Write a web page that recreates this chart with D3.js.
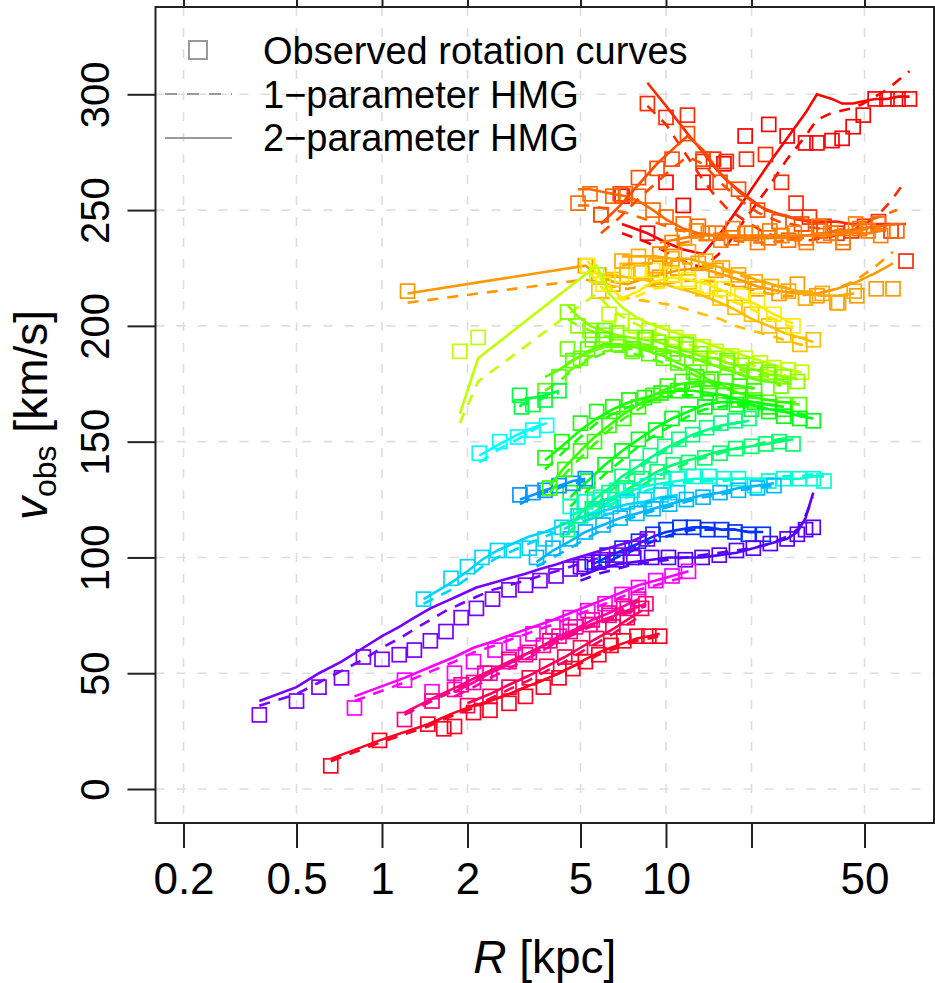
<!DOCTYPE html>
<html><head><meta charset="utf-8">
<script src="https://cdn.jsdelivr.net/npm/d3@7"></script>
<style>body{margin:0;background:#fff}svg{display:block}</style>
</head><body>
<svg id="chart" width="935" height="983"></svg>
<script>
// ---------- axes ----------
const xTicks = [0.2, 0.5, 1, 2, 5, 10, 20, 50];
const xTickLabels = ["0.2", "0.5", "1", "2", "5", "10", "", "50"];
const yTicks = [0, 50, 100, 150, 200, 250, 300];
const legendLabels = ["Observed rotation curves", "1\u2212parameter HMG", "2\u2212parameter HMG"];

// ---------- rotation curves: radius [kpc], observed v, 1-parameter fit, 2-parameter fit ----------
const g01R   = [7, 8.6, 10, 11.5, 13.5, 16, 19, 23, 26.7, 31, 34, 38.4, 41.7, 45.6, 49.5, 54.5, 60, 65.6, 72];
const g01Obs = [256, 240, 262, 252, 262, 270, 282, 287, 282, 279, 279, 280, 281, 286, 291, 298, 298, 298, 298];
const g01One = [240, 236, 232, 228, 225, 233, 246, 260, 272, 282, 289, 292, 293, 294, 296, 299, 302, 306, 310];
const g01Two = [244, 240, 236, 233, 231, 242, 255, 270, 281, 292, 300, 298, 296, 296, 297, 298, 298, 299, 299];

const g02R   = [8.6, 10, 11.9, 13.5, 14.7, 16.3, 19.2, 22.4, 25.5, 28.7, 32, 36, 40, 45, 50, 56, 62, 70];
const g02Obs = [296, 290, 291, 271, 272, 271, 272, 274, 262, 253, 247, 243, 240, 241, 243, 245, 241, 228];
const g02One = [295, 287, 273, 263, 257, 251, 245, 240, 238, 237, 237, 238, 239, 241, 244, 248, 254, 263];
const g02Two = [305, 295, 283, 275, 269, 263, 256, 250, 248, 246, 245, 245, 245, 244, 244, 244, 244, 244];

const g03R   = [4.9, 5.4, 5.9, 6.5, 7.2, 8, 9, 10, 11.5, 13, 15, 17, 20, 23, 27, 31, 36, 42, 48, 56, 65];
const g03Obs = [253, 257, 248, 256, 257, 256, 250, 247, 244, 243, 240, 238, 240, 238, 237, 238, 239, 236, 242, 244, 241];
const g03One = [252, 252, 251, 250, 249, 247, 245, 243, 241, 239, 238, 237, 236, 236, 237, 238, 240, 242, 244, 247, 250];
const g03Two = [259, 259, 258, 257, 256, 254, 250, 246, 242, 240, 239, 238, 238, 238, 238, 239, 240, 241, 242, 243, 244];

const g04R   = [5.9, 6.9, 8, 9.3, 10.5, 11.9, 13.5, 15.5, 18, 21, 25, 30, 35];
const g04Obs = [248, 257, 264, 268, 272, 283, 272, 262, 259, 250, 245, 244, 241];
const g04One = [240, 247, 255, 262, 268, 273, 270, 262, 255, 249, 245, 243, 242];
const g04Two = [244, 252, 261, 270, 276, 282, 276, 266, 258, 252, 248, 246, 245];

const g05R   = [1.23, 5.2, 5.8, 6.5, 7.3, 8.2, 9.5, 11, 13, 15, 18, 21, 25, 29, 34, 40, 47, 55, 63];
const g05Obs = [215, 226, 222, 218, 222, 223, 221, 225, 227, 224, 220, 216, 214, 218, 213, 210, 213, 216, 216];
const g05One = [210, 220, 219, 217, 216, 217, 218, 219, 220, 219, 217, 215, 213, 213, 214, 216, 220, 226, 232];
const g05Two = [214, 226, 222, 219, 218, 220, 222, 224, 225, 223, 220, 217, 215, 214, 214, 216, 219, 223, 227];

const g06R   = [5.8, 6.5, 7.3, 8.2, 9.3, 10.5, 12, 13.5, 15.5, 17.5, 20, 23, 26, 29.6, 33];
const g06Obs = [215, 220, 224, 223, 220, 222, 219, 216, 212, 208, 205, 200, 196, 192, 194];
const g06One = [212, 212, 212, 211, 210, 209, 207, 205, 203, 200, 198, 196, 194, 192, 191];
const g06Two = [222, 222, 221, 220, 219, 217, 215, 213, 210, 207, 203, 200, 197, 195, 193];

const g07R   = [5.3, 6, 7, 8, 9, 10.5, 12, 14, 16, 18.5, 21, 24, 28];
const g07Obs = [226, 218, 222, 224, 224, 222, 220, 217, 216, 213, 211, 205, 200];
const g07One = [224, 216, 211, 213, 216, 217, 216, 214, 212, 209, 206, 203, 199];
const g07Two = [228, 219, 212, 215, 219, 221, 220, 218, 215, 212, 209, 205, 201];

const g08R   = [1.88, 2.18, 5.7, 6.3, 7, 7.8, 8.7, 9.7, 10.8, 12, 13.5, 15, 17, 19, 21.5, 24, 27, 30];
const g08Obs = [189, 195, 222, 205, 202, 200, 198, 197, 195, 193, 191, 189, 187, 186, 184, 182, 181, 180];
const g08One = [158, 176, 214, 208, 204, 201, 198, 196, 194, 192, 190, 188, 186, 184, 182, 180, 178, 177];
const g08Two = [162, 186, 226, 214, 208, 204, 201, 199, 197, 195, 193, 191, 189, 187, 185, 183, 181, 180];

const g09R   = [4.5, 4.9, 5.4, 6, 6.7, 7.5, 8.4, 9.4, 10.5, 11.8, 13.2, 14.8, 16.5, 18.5, 20.7, 23, 26, 29];
const g09Obs = [206, 200, 198, 196, 197, 195, 194, 193, 192, 190, 188, 186, 184, 183, 181, 180, 178, 176];
const g09One = [203, 200, 198, 196, 194, 193, 192, 190, 189, 187, 186, 184, 182, 181, 179, 178, 176, 175];
const g09Two = [209, 204, 200, 198, 196, 195, 194, 193, 191, 189, 187, 186, 184, 182, 181, 179, 178, 177];

const g10R   = [3.75, 4.2, 4.7, 5.3, 6, 6.8, 7.7, 8.7, 9.8, 11, 12.5, 14, 16, 18, 20.5, 23, 26, 29.5];
const g10Obs = [172, 178, 185, 190, 194, 192, 190, 188, 186, 184, 180, 176, 172, 170, 168, 167, 166, 166];
const g10One = [172, 176, 181, 185, 188, 189, 188, 186, 184, 182, 179, 176, 173, 171, 169, 168, 167, 167];
const g10Two = [178, 181, 185, 189, 192, 192, 191, 189, 187, 184, 181, 177, 174, 171, 169, 168, 167, 166];

const g11R   = [3.75, 4.3, 5, 5.7, 6.5, 7.4, 8.4, 9.6, 11, 12.5, 14.2, 16, 18, 20.5, 23, 26];
const g11Obs = [143, 150, 158, 163, 165, 168, 169, 171, 172, 172, 171, 170, 168, 167, 165, 164];
const g11One = [138, 145, 152, 158, 162, 165, 167, 169, 170, 170, 170, 169, 168, 167, 166, 165];
const g11Two = [142, 148, 155, 160, 164, 167, 169, 171, 172, 172, 171, 170, 168, 167, 166, 165];

const g12R   = [4.6, 5.3, 6.1, 7, 8, 9.2, 10.5, 12, 13.7, 15.5, 17.7, 20, 23, 26, 29.6, 33];
const g12Obs = [128, 133, 140, 146, 151, 155, 160, 162, 165, 167, 166, 164, 163, 161, 160, 159];
const g12One = [122, 129, 136, 142, 148, 153, 157, 161, 164, 165, 166, 165, 164, 163, 162, 161];
const g12Two = [126, 133, 140, 146, 151, 156, 160, 163, 166, 167, 167, 166, 164, 163, 161, 160];

const g13R   = [5.5, 6.3, 7.2, 8.2, 9.3, 10.6, 12, 13.7, 15.5, 17.6, 20, 22.5, 25, 28];
const g13Obs = [121, 125, 130, 134, 137, 140, 141, 143, 145, 147, 148, 149, 150, 149];
const g13One = [117, 122, 127, 131, 135, 138, 141, 143, 145, 147, 148, 150, 151, 152];
const g13Two = [119, 124, 129, 133, 137, 140, 142, 144, 146, 147, 148, 149, 150, 151];

const g14R   = [4.6, 5.2, 5.9, 6.7, 7.6, 8.6, 9.7, 11, 12.5, 14.2, 16, 18, 20.5, 23, 26, 29.5, 33, 36];
const g14Obs = [122, 124, 126, 129, 129, 131, 133, 134, 135, 135, 134, 134, 131, 133, 134, 134, 134, 133];
const g14One = [115, 118, 121, 124, 127, 129, 131, 132, 133, 133, 133, 134, 134, 134, 135, 135, 136, 136];
const g14Two = [118, 121, 124, 127, 129, 131, 132, 133, 134, 134, 134, 134, 134, 134, 134, 134, 135, 135];

const g15R   = [1.4, 1.75, 2, 2.25, 2.55, 2.9, 3.3, 3.75, 4.3, 4.9, 5.6, 6.4, 7.3, 8.4, 9.6, 11];
const g15Obs = [82, 91, 96, 100, 103, 103, 104, 108, 113, 118, 120, 122, 124, 125, 127, 128];
const g15One = [80, 86, 91, 96, 100, 103, 106, 109, 112, 115, 117, 119, 121, 123, 125, 126];
const g15Two = [82, 89, 94, 99, 103, 106, 109, 111, 114, 117, 119, 121, 123, 124, 126, 127];

const g16R   = [2.2, 2.6, 3, 3.4, 3.8];
const g16Obs = [145, 150, 152, 155, 157];
const g16One = [141, 147, 151, 155, 158];
const g16Two = [144, 149, 153, 156, 158];

const g17R   = [3.06, 3.4, 3.75, 4.2, 4.7, 5.2];
const g17Obs = [127, 128, 129, 131, 132, 134];
const g17One = [123, 126, 128, 130, 132, 133];
const g17Two = [125, 127, 129, 131, 133, 134];

const g18R   = [5.5, 6.2, 7, 8, 9, 10, 11.2, 12.5, 14, 15.7, 17.5, 19.5, 22];
const g18Obs = [98, 101, 104, 107, 110, 112, 113, 113, 112, 112, 111, 110, 110];
const g18One = [95, 98, 101, 104, 107, 109, 111, 112, 112, 112, 112, 111, 111];
const g18Two = [97, 100, 103, 106, 109, 111, 112, 113, 113, 112, 112, 111, 111];

const g19R   = [0.37, 0.5, 0.6, 0.72, 0.86, 1.0, 1.15, 1.3, 1.48, 1.68, 1.9, 2.15, 2.45, 2.8, 3.2, 3.6, 4.1, 4.6, 5.2, 5.9, 6.7, 7.6, 8.6];
const g19Obs = [32, 38, 44, 48, 57, 56, 58, 60, 64, 68, 74, 78, 82, 86, 88, 90, 92, 95, 97, 99, 101, 104, 108];
const g19One = [36, 41, 46, 51, 56, 61, 65, 69, 73, 77, 80, 83, 86, 88, 90, 92, 94, 96, 98, 100, 102, 104, 107];
const g19Two = [38, 44, 50, 55, 61, 66, 70, 74, 78, 81, 84, 87, 89, 91, 93, 95, 97, 99, 101, 103, 105, 107, 110];

const g20R   = [5, 5.8, 6.7, 7.7, 8.9, 10.2, 11.7, 13.4, 15.4, 17.7, 20.3, 23.3, 26.7, 29, 31, 33];
const g20Obs = [96, 98, 99, 100, 100, 100, 99, 100, 101, 103, 104, 106, 108, 110, 112, 113];
const g20One = [90, 93, 95, 97, 98, 99, 100, 101, 102, 103, 104, 106, 109, 112, 118, 126];
const g20Two = [92, 95, 97, 98, 99, 100, 100, 100, 101, 102, 104, 106, 108, 111, 117, 128];

const g21R   = [0.8, 1.2, 1.5, 1.8, 2.1, 2.5, 2.9, 3.4, 4, 4.6, 5.3, 6.1, 7, 8, 9.2, 10.5, 12];
const g21Obs = [35, 47, 42, 50, 55, 60, 63, 67, 70, 74, 77, 80, 84, 87, 90, 92, 94];
const g21One = [38, 46, 51, 55, 59, 62, 65, 68, 71, 74, 77, 80, 83, 86, 88, 90, 92];
const g21Two = [40, 48, 53, 57, 61, 64, 67, 70, 73, 76, 79, 82, 85, 88, 90, 92, 94];

const g22R   = [1.8, 2.1, 2.4, 2.8, 3.2, 3.7, 4.2, 4.8, 5.5, 6.3, 7.1, 8];
const g22Obs = [43, 46, 50, 55, 58, 62, 66, 70, 73, 76, 79, 82];
const g22One = [40, 44, 48, 52, 56, 60, 64, 68, 71, 74, 78, 81];
const g22Two = [42, 46, 50, 54, 58, 62, 66, 69, 73, 76, 79, 82];

const g23R   = [2, 2.4, 2.8, 3.3, 3.8, 4.4, 5, 5.7, 6.5, 7.3, 8.2];
const g23Obs = [36, 40, 44, 48, 53, 57, 61, 65, 70, 74, 78];
const g23One = [35, 39, 43, 47, 51, 55, 59, 63, 67, 71, 75];
const g23Two = [37, 41, 45, 49, 53, 57, 61, 65, 69, 73, 77];

const g24R   = [0.66, 0.98, 1.45, 1.65, 1.8, 2.1, 2.4, 2.8, 3.2, 3.7, 4.2, 4.7, 5.2, 5.8, 6.4, 7.1, 7.9, 8.7, 9.5];
const g24Obs = [10, 21, 28, 26, 27, 33, 34, 37, 40, 44, 48, 52, 55, 58, 62, 64, 66, 66, 66];
const g24One = [12, 20, 27, 30, 32, 35, 38, 41, 44, 47, 50, 53, 55, 58, 60, 62, 64, 65, 66];
const g24Two = [13, 21, 28, 31, 33, 36, 38, 41, 44, 47, 50, 53, 56, 59, 61, 63, 65, 66, 67];

const g25R   = [3.5, 4, 4.6, 5.2, 6, 6.9, 7.9, 9, 10.3, 11.8, 13.5, 15.5, 18, 21, 24];
const g25Obs = [100, 104, 108, 111, 114, 117, 119, 121, 123, 125, 126, 128, 129, 130, 131];
const g25One = [96, 100, 104, 108, 112, 115, 118, 120, 122, 124, 126, 127, 129, 130, 131];
const g25Two = [98, 103, 107, 111, 114, 117, 119, 121, 123, 125, 127, 128, 130, 131, 132];

const g26R   = [3.05, 3.1, 3.4, 3.75, 4.2];
const g26Obs = [170, 165, 166, 168, 172];
const g26One = [165, 166, 167, 169, 171];
const g26Two = [168, 168, 169, 170, 172];

const g27R   = [9.5, 10.5, 11.6, 12.8, 14.1, 15.6, 17.2, 19, 21, 23.2, 25.6, 28.3, 31.2, 34.5, 38, 42, 46.5, 51.5, 57];
const g27Obs = [231, 236, 238, 241, 240, 237, 242, 240, 236, 241, 239, 240, 236, 243, 240, 238, 244, 241, 239];
const g27One = [233, 235, 236, 237, 237, 238, 238, 238, 238, 238, 238, 239, 239, 239, 240, 240, 241, 242, 243];
const g27Two = [236, 237, 238, 239, 239, 239, 239, 239, 239, 239, 239, 239, 239, 239, 239, 240, 240, 240, 241];

const g28R   = [4.5, 5, 5.5, 6.1, 6.8, 7.6, 8.5, 9.5, 10.6, 11.8, 13.2, 14.7, 16.4, 18.3, 20.4, 22.8, 25.4];
const g28Obs = [190, 186, 194, 198, 192, 189, 195, 191, 188, 192, 186, 183, 185, 180, 178, 179, 174];
const g28One = [180, 184, 187, 189, 190, 190, 190, 189, 188, 187, 185, 183, 181, 179, 177, 176, 174];
const g28Two = [184, 187, 189, 191, 191, 191, 191, 190, 189, 187, 185, 183, 181, 179, 177, 176, 175];

const g29R   = [3.9, 4.4, 5, 5.6, 6.3, 7.1, 8, 9, 10.1, 11.4, 12.8, 14.4, 16.2, 18.2, 20.5];
const g29Obs = [130, 138, 146, 150, 157, 160, 165, 170, 174, 176, 178, 177, 176, 174, 172];
const g29One = [128, 136, 143, 149, 155, 160, 164, 168, 171, 173, 174, 175, 175, 174, 173];
const g29Two = [131, 139, 146, 152, 157, 162, 166, 170, 173, 175, 176, 176, 175, 174, 173];

const g30R   = [4.5, 5, 5.6, 6.3, 7, 7.9, 8.8, 9.9, 11.1, 12.4, 13.9, 15.6, 17.5, 19.6];
const g30Obs = [112, 118, 125, 128, 135, 139, 144, 148, 151, 153, 156, 158, 159, 160];
const g30One = [110, 116, 122, 128, 133, 138, 142, 146, 149, 152, 154, 156, 158, 159];
const g30Two = [113, 119, 125, 130, 135, 139, 143, 147, 150, 153, 155, 157, 158, 159];

const g31R   = [1.2, 1.5, 1.9, 2.3, 2.8, 3.3, 3.9, 4.6, 5.4, 6.3, 7.3, 8.5];
const g31Obs = [30, 38, 45, 50, 56, 59, 64, 68, 71, 75, 78, 80];
const g31One = [32, 38, 44, 49, 54, 58, 62, 66, 70, 73, 76, 79];
const g31Two = [33, 39, 45, 50, 55, 59, 63, 67, 71, 74, 77, 80];

const g32R   = [7, 8, 9.2, 10.5, 12, 13.8, 15.8, 18, 20.6, 23.5, 27, 31, 35.5, 40.5, 46];
const g32Obs = [228, 230, 226, 229, 232, 228, 225, 222, 219, 217, 215, 212, 214, 210, 215];
const g32One = [226, 227, 227, 227, 227, 226, 224, 222, 220, 218, 216, 214, 213, 213, 214];
const g32Two = [230, 230, 230, 229, 229, 227, 225, 223, 220, 218, 216, 214, 213, 213, 214];

// one hue (degrees) per galaxy, rainbow-style
const galaxyHues = [0, 10, 25, 18, 36, 45, 55, 75, 88, 100, 115, 125, 145, 170, 190, 180, 205, 228, 268, 260,
                    300, 320, 340, 352, 197, 135, 30, 95, 108, 150, 330, 40];

const galaxies = [
  [g01R, g01Obs, g01One, g01Two], [g02R, g02Obs, g02One, g02Two], [g03R, g03Obs, g03One, g03Two],
  [g04R, g04Obs, g04One, g04Two], [g05R, g05Obs, g05One, g05Two], [g06R, g06Obs, g06One, g06Two],
  [g07R, g07Obs, g07One, g07Two], [g08R, g08Obs, g08One, g08Two], [g09R, g09Obs, g09One, g09Two],
  [g10R, g10Obs, g10One, g10Two], [g11R, g11Obs, g11One, g11Two], [g12R, g12Obs, g12One, g12Two],
  [g13R, g13Obs, g13One, g13Two], [g14R, g14Obs, g14One, g14Two], [g15R, g15Obs, g15One, g15Two],
  [g16R, g16Obs, g16One, g16Two], [g17R, g17Obs, g17One, g17Two], [g18R, g18Obs, g18One, g18Two],
  [g19R, g19Obs, g19One, g19Two], [g20R, g20Obs, g20One, g20Two], [g21R, g21Obs, g21One, g21Two],
  [g22R, g22Obs, g22One, g22Two], [g23R, g23Obs, g23One, g23Two], [g24R, g24Obs, g24One, g24Two],
  [g25R, g25Obs, g25One, g25Two], [g26R, g26Obs, g26One, g26Two], [g27R, g27Obs, g27One, g27Two],
  [g28R, g28Obs, g28One, g28Two], [g29R, g29Obs, g29One, g29Two], [g30R, g30Obs, g30One, g30Two],
  [g31R, g31Obs, g31One, g31Two], [g32R, g32Obs, g32One, g32Two]
].map(([r, obs, one, two], i) => ({
  color: d3.hsl(galaxyHues[i], 1, 0.5).formatHex(),
  obs: r.map((d, k) => ({r: d, v: obs[k]})),
  one: r.map((d, k) => ({r: d, v: one[k]})),
  two: r.map((d, k) => ({r: d, v: two[k]}))
}));

// ---------- layout ----------
const plot = {left: 155.5, right: 934, top: 7, bottom: 823};
const x = d3.scaleLog().domain([0.15939, 87.83]).range([plot.left, plot.right]);
const y = d3.scaleLinear().domain([-14.68, 337.7]).range([plot.bottom, plot.top]);

const svg = d3.select("#chart");
const FONT = "'Liberation Sans', Arial, Helvetica, sans-serif";

// grid
const grid = svg.append("g").attr("stroke", "#dedede").attr("stroke-width", 1.6)
  .attr("stroke-dasharray", "9,12");
grid.selectAll(".gx").data(xTicks).join("line")
  .attr("x1", d => x(d)).attr("x2", d => x(d)).attr("y1", plot.top).attr("y2", plot.bottom);
grid.selectAll(".gy").data(yTicks).join("line")
  .attr("x1", plot.left).attr("x2", plot.right).attr("y1", d => y(d)).attr("y2", d => y(d));

// data
svg.append("clipPath").attr("id", "plotclip").append("rect")
  .attr("x", plot.left).attr("y", plot.top)
  .attr("width", plot.right - plot.left).attr("height", plot.bottom - plot.top);
const dataG = svg.append("g").attr("clip-path", "url(#plotclip)");
const line = d3.line().x(d => x(d.r)).y(d => y(d.v));
const SQ = 14;

galaxies.forEach(g => {
  const gg = dataG.append("g");
  gg.selectAll("rect").data(g.obs).join("rect")
    .attr("x", d => x(d.r) - SQ / 2).attr("y", d => y(d.v) - SQ / 2)
    .attr("width", SQ).attr("height", SQ)
    .attr("fill", "none").attr("stroke", g.color).attr("stroke-width", 1.7);
  gg.append("path").attr("d", line(g.one)).attr("fill", "none")
    .attr("stroke", g.color).attr("stroke-width", 2.6).attr("stroke-dasharray", "11,9");
  gg.append("path").attr("d", line(g.two)).attr("fill", "none")
    .attr("stroke", g.color).attr("stroke-width", 2.6);
});

// axes
const axB = svg.append("g").attr("transform", `translate(0,${plot.bottom})`)
  .call(d3.axisBottom(x).tickValues(xTicks).tickSize(25).tickSizeOuter(0)
    .tickFormat((d, i) => xTickLabels[i]));
const axT = svg.append("g").attr("transform", `translate(0,${plot.top})`)
  .call(d3.axisTop(x).tickValues(xTicks).tickSize(25).tickSizeOuter(0).tickFormat(() => ""));
const axL = svg.append("g").attr("transform", `translate(${plot.left},0)`)
  .call(d3.axisLeft(y).tickValues(yTicks).tickSize(28).tickSizeOuter(0));
[axB, axT, axL].forEach(a => {
  a.select(".domain").remove();
  a.selectAll(".tick line").attr("stroke", "#222").attr("stroke-width", 2);
});
axB.selectAll(".tick text").attr("font-family", FONT).attr("font-size", 44)
  .attr("fill", "#000").attr("y", 40).attr("dy", "0.71em");
axL.selectAll(".tick text").attr("font-family", FONT).attr("font-size", 40)
  .attr("fill", "#000").attr("x", null).attr("dy", null)
  .attr("text-anchor", "middle")
  .attr("transform", "translate(-47,0) rotate(-90)");

// frame
svg.append("rect").attr("x", plot.left).attr("y", plot.top)
  .attr("width", plot.right - plot.left).attr("height", plot.bottom - plot.top)
  .attr("fill", "none").attr("stroke", "#222").attr("stroke-width", 2);

// axis titles
const xt = svg.append("text").attr("x", (plot.left + plot.right) / 2).attr("y", 973)
  .attr("text-anchor", "middle").attr("font-family", FONT).attr("font-size", 46);
xt.append("tspan").attr("font-style", "italic").text("R");
xt.append("tspan").text(" [kpc]");

const yt = svg.append("text").attr("transform", `translate(47,${(plot.top + plot.bottom) / 2}) rotate(-90)`)
  .attr("text-anchor", "middle").attr("font-family", FONT).attr("font-size", 46);
yt.append("tspan").attr("font-style", "italic").text("v");
yt.append("tspan").attr("font-size", 32).attr("dy", 9).text("obs");
yt.append("tspan").attr("dy", -9).text(" [km/s]");

// legend
const lg = svg.append("g");
lg.append("rect").attr("x", 198 - 9).attr("y", 50 - 9).attr("width", 18).attr("height", 18)
  .attr("fill", "none").attr("stroke", "#9a9a9a").attr("stroke-width", 2);
lg.append("line").attr("x1", 165).attr("x2", 232).attr("y1", 94).attr("y2", 94)
  .attr("stroke", "#9a9a9a").attr("stroke-width", 2).attr("stroke-dasharray", "12,10");
lg.append("line").attr("x1", 165).attr("x2", 232).attr("y1", 138).attr("y2", 138)
  .attr("stroke", "#9a9a9a").attr("stroke-width", 2);
lg.selectAll("text").data(legendLabels).join("text")
  .attr("x", 263).attr("y", (d, i) => 64 + i * 43.5)
  .attr("font-family", FONT).attr("font-size", 38).attr("fill", "#000")
  .text(d => d);
</script>
</body></html>
